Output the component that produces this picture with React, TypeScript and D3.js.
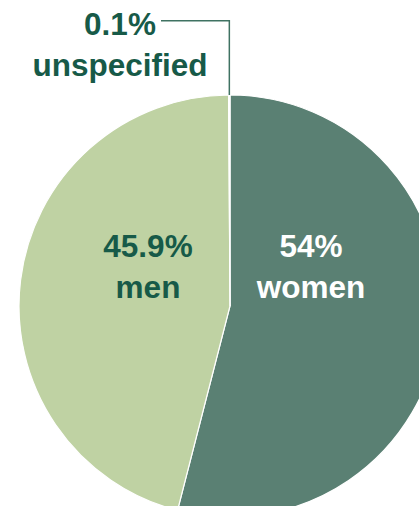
import * as d3 from 'd3';
import { useEffect, useRef } from 'react';

// slices in draw order, clockwise from 12 o'clock
const labels = ['women', 'men', 'unspecified'];
const shares = [54, 45.9, 0.1];
const shareText = ['54%', '45.9%', '0.1%'];
const colors = ['#5a8073', '#bfd2a3', '#ffffff'];

const App = () => {
  const svgRef = useRef<SVGSVGElement>(null);

  useEffect(() => {
    if (!svgRef.current) return;

    const width = 419;
    const height = 506;
    const cx = 230;
    const cy = 306;
    const radius = 211;
    const dark = '#175a48';

    const svg = d3.select(svgRef.current)
      .attr('width', width)
      .attr('height', height);
    svg.selectAll('*').remove();

    const pie = d3.pie<number>().sort(null).value((d) => d);
    const arcs = pie(shares);
    const arc = d3.arc<d3.PieArcDatum<number>>().innerRadius(0).outerRadius(radius);

    const g = svg.append('g').attr('transform', `translate(${cx},${cy})`);

    g.selectAll('path')
      .data(arcs)
      .enter()
      .append('path')
      .attr('d', arc)
      .attr('fill', (_d, i) => colors[i])
      .attr('stroke', '#ffffff')
      .attr('stroke-width', 1.2);

    // leader line for the tiny slice
    const small = arcs[2];
    const mid = (small.startAngle + small.endAngle) / 2;
    const px = cx + radius * Math.sin(mid);
    const py = cy - radius * Math.cos(mid);
    svg.append('polyline')
      .attr('points', `${px},${py} ${px},20.7 161,20.7`)
      .attr('fill', 'none')
      .attr('stroke', '#3f7262')
      .attr('stroke-width', 1.5);

    const font = '"Liberation Sans", Arial, sans-serif';
    const labelPos = [
      { x: 311, y: 257, fill: '#ffffff' },
      { x: 148, y: 257, fill: dark },
      { x: 120, y: 35, fill: dark },
    ];

    labels.forEach((name, i) => {
      const t = svg.append('text')
        .attr('x', labelPos[i].x)
        .attr('y', labelPos[i].y)
        .attr('text-anchor', 'middle')
        .attr('font-family', font)
        .attr('font-weight', 'bold')
        .attr('font-size', 31.5)
        .attr('fill', labelPos[i].fill);
      t.append('tspan').attr('x', labelPos[i].x).text(shareText[i]);
      t.append('tspan').attr('x', labelPos[i].x).attr('dy', 40.5).text(name);
    });
  }, []);

  return <svg ref={svgRef} style={{ position: 'absolute', left: 0, top: 0 }} />;
};

export default App;
